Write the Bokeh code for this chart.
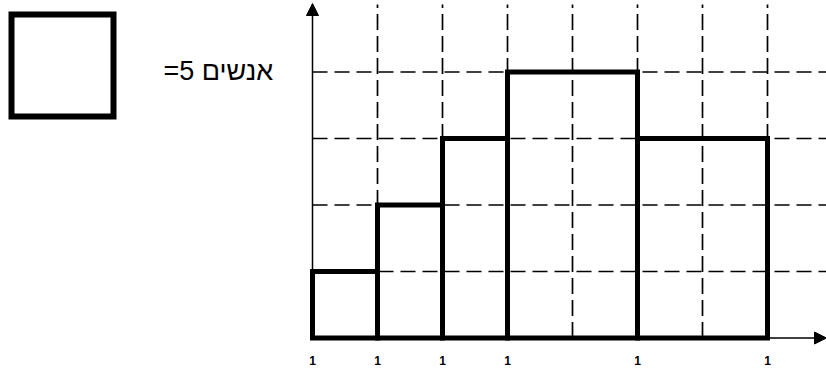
from bokeh.plotting import figure
from bokeh.models import Range1d, Arrow, NormalHead, Label
from bokeh.core.properties import value
from bokeh.embed import file_html
from bokeh.resources import INLINE

# ---- data ----
bin_edges = [0, 1, 2, 3, 5, 7]          # bar edges, in grid columns
bar_heights = [1, 2, 3, 4, 3]           # bar heights, in squares (1 square = 5 people)
edge_labels = ["1", "1", "1", "1", "1", "1"]
grid_cols = [1, 2, 3, 4, 5, 6, 7]
grid_rows = [1, 2, 3, 4]
legend_text = "=5 אנשים"

# ---- layout ----
W, H = 826, 369
COL_PX, ROW_PX = 65.0, 66.5
OX, OY = 312.0, 337.5           # origin in canvas px (y from top)

def dx(px):
    return (px - OX) / COL_PX

def dy(py):
    return (OY - py) / ROW_PX

x_start, x_end = dx(0), dx(W)
y_start, y_end = dy(H), dy(0)

p = figure(width=W, height=H, output_backend="svg", toolbar_location=None,
           x_range=Range1d(x_start, x_end), y_range=Range1d(y_start, y_end),
           min_border=0, min_border_left=0, min_border_right=0,
           min_border_top=0, min_border_bottom=0)
p.axis.visible = False
p.grid.visible = False
p.outline_line_color = None
p.background_fill_color = "white"
p.border_fill_color = "white"

# dashed grid
p.segment(x0=grid_cols, y0=[0] * len(grid_cols), x1=grid_cols, y1=[dy(4)] * len(grid_cols),
          line_color="black", line_width=1.7, line_dash="16 6")
p.segment(x0=[0] * len(grid_rows), y0=grid_rows, x1=[x_end] * len(grid_rows), y1=grid_rows,
          line_color="black", line_width=1.7, line_dash="15 7")

# axes with arrows
p.add_layout(Arrow(end=NormalHead(size=12, fill_color="black", line_color="black", line_width=1),
                   x_start=0, y_start=0, x_end=x_end, y_end=0,
                   line_color="black", line_width=1.5))
p.add_layout(Arrow(end=NormalHead(size=12, fill_color="black", line_color="black", line_width=1),
                   x_start=0, y_start=0, x_end=0, y_end=dy(3),
                   line_color="black", line_width=1.5))

# histogram bars (outline only)
p.quad(left=bin_edges[:-1], right=bin_edges[1:], bottom=[0] * len(bar_heights), top=bar_heights,
       fill_alpha=0, line_color="black", line_width=5, line_join="miter")

# edge labels
p.text(x=bin_edges, y=[dy(360)] * len(bin_edges), text=edge_labels,
       text_font=value("Liberation Sans"), text_font_size="12px", text_font_style="bold",
       text_align="center", text_baseline="alphabetic", text_color="black")

# legend square
p.rect(x=[dx(62)], y=[dy(65)], width=102, height=102, width_units="screen", height_units="screen",
       fill_alpha=0, line_color="black", line_width=6, line_join="miter")
p.add_layout(Label(x=dx(163), y=dy(70), text=legend_text, text_font="Liberation Sans",
                   text_font_size="27px", text_align="left", text_baseline="middle",
                   text_color="black"))

open("out.html", "w").write(file_html(p, INLINE))
